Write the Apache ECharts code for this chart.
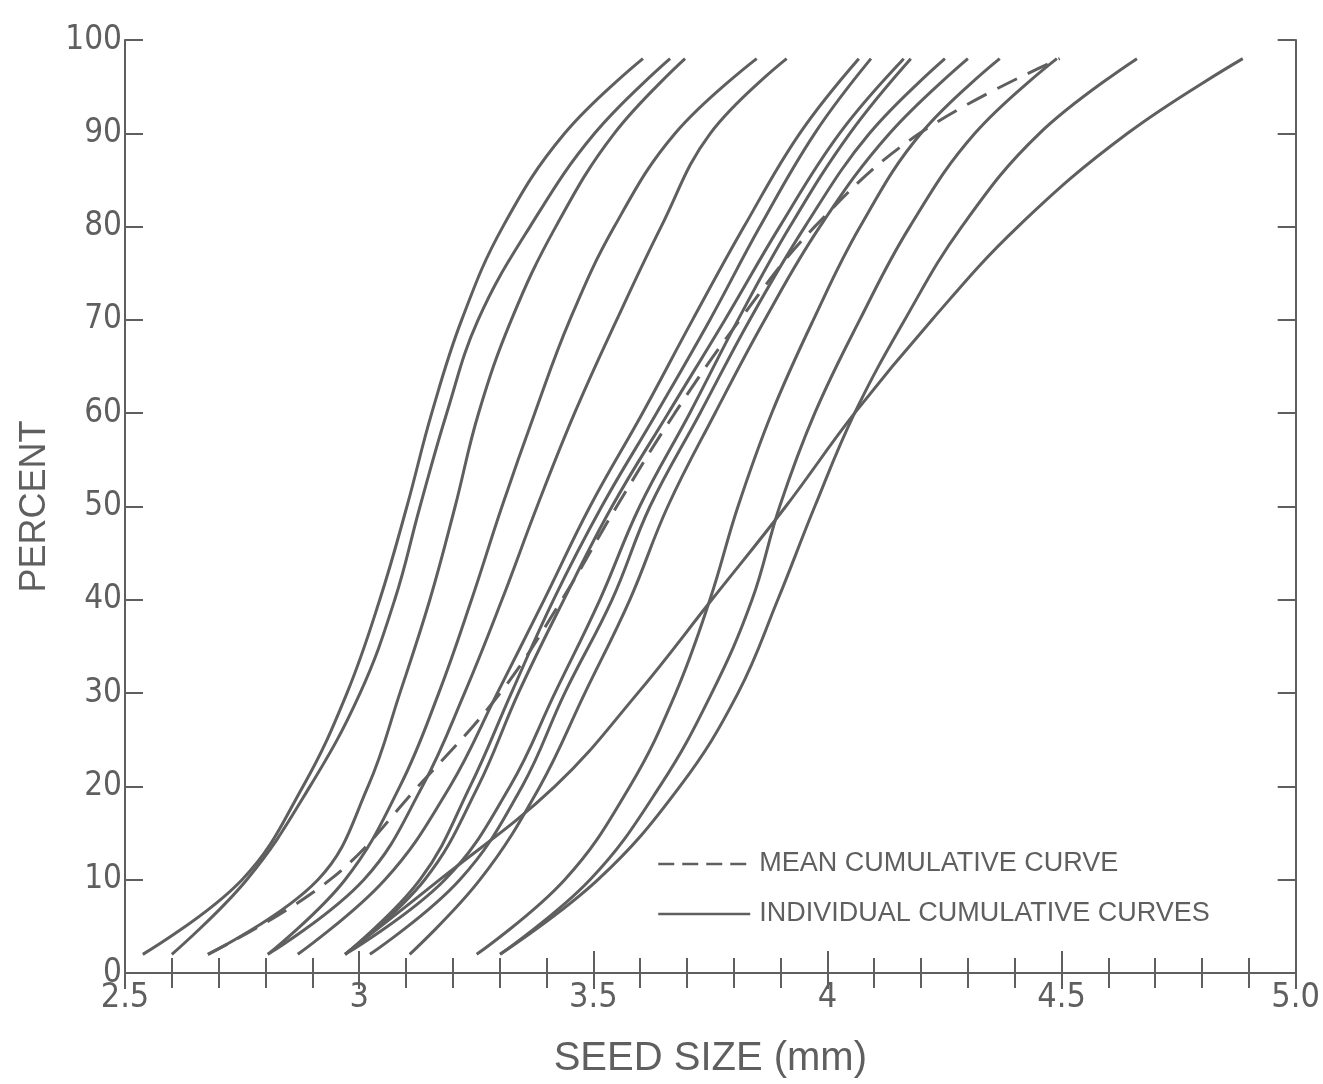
<!DOCTYPE html>
<html>
<head>
<meta charset="utf-8">
<title>Seed size cumulative curves</title>
<script src="https://cdn.jsdelivr.net/npm/echarts@6/dist/echarts.min.js"></script>
<style>
  html, body { margin: 0; padding: 0; background: #fff; }
  #chart { width: 1323px; height: 1084px; }
</style>
</head>
<body>
<div id="chart"></div>
<script>
// cumulative percent levels, shared by every curve
const percentLevels = [2, 10, 20, 30, 40, 50, 60, 70, 80, 90, 98];

// seed size (mm) at those levels
const curve1  = [2.538, 2.750, 2.880, 2.974, 3.044, 3.102, 3.155, 3.219, 3.307, 3.439, 3.606];
const curve2  = [2.600, 2.760, 2.895, 3.002, 3.076, 3.130, 3.187, 3.254, 3.365, 3.503, 3.664];
const curve3  = [2.677, 2.912, 3.019, 3.087, 3.151, 3.205, 3.255, 3.325, 3.420, 3.545, 3.696];
const curve4  = [2.805, 2.970, 3.087, 3.170, 3.240, 3.305, 3.375, 3.450, 3.545, 3.675, 3.849];
const curve5  = [2.805, 3.010, 3.135, 3.225, 3.305, 3.380, 3.460, 3.550, 3.645, 3.750, 3.913];
const curve6  = [2.869, 3.055, 3.194, 3.295, 3.395, 3.493, 3.605, 3.712, 3.822, 3.941, 4.067];
const curve7  = [2.970, 3.130, 3.237, 3.325, 3.415, 3.518, 3.635, 3.749, 3.856, 3.973, 4.093];
const curve8  = [2.970, 3.140, 3.254, 3.340, 3.437, 3.540, 3.660, 3.781, 3.898, 4.026, 4.163];
const curve9  = [2.970, 3.183, 3.322, 3.418, 3.514, 3.599, 3.706, 3.809, 3.920, 4.048, 4.178];
const curve10 = [3.023, 3.215, 3.348, 3.439, 3.540, 3.621, 3.728, 3.834, 3.952, 4.090, 4.251];
const curve11 = [3.108, 3.258, 3.386, 3.482, 3.578, 3.659, 3.760, 3.866, 3.984, 4.133, 4.300];
const curve12 = [3.251, 3.439, 3.578, 3.676, 3.749, 3.809, 3.881, 3.970, 4.070, 4.200, 4.368];
const curve13 = [3.301, 3.493, 3.642, 3.753, 3.839, 3.898, 3.973, 4.069, 4.176, 4.315, 4.490];
const curve14 = [3.301, 3.510, 3.685, 3.809, 3.894, 3.973, 4.058, 4.165, 4.287, 4.453, 4.661];
const curve15 = [2.970, 3.172, 3.418, 3.595, 3.753, 3.911, 4.058, 4.223, 4.407, 4.641, 4.887];

// mean cumulative curve (dashed)
const meanCurve = [2.677, 2.938, 3.126, 3.301, 3.433, 3.550, 3.674, 3.813, 3.973, 4.197, 4.496];

const xTickLabels = ['2.5', '3', '3.5', '4', '4.5', '5.0'];

const individualCurves = [curve1, curve2, curve3, curve4, curve5, curve6, curve7, curve8,
  curve9, curve10, curve11, curve12, curve13, curve14, curve15];

const INK = '#5f5f5f';
const numFont = "'Liberation Sans Narrow', 'DejaVu Sans Condensed', sans-serif";
const textFont = "'Liberation Sans', Arial, sans-serif";

const toPoints = sizes => sizes.map((s, i) => [s, percentLevels[i]]);

const series = individualCurves.map(c => ({
  name: 'INDIVIDUAL CUMULATIVE CURVES',
  type: 'line',
  data: toPoints(c),
  smooth: 0.4,
  symbol: 'none',
  lineStyle: { color: INK, width: 3 },
  itemStyle: { color: INK }
}));

series.push({
  name: 'MEAN CUMULATIVE CURVE',
  type: 'line',
  data: toPoints(meanCurve),
  smooth: 0.4,
  symbol: 'none',
  lineStyle: { color: INK, width: 3, type: [22, 12] },
  itemStyle: { color: INK }
});

const tickLine = { color: INK, width: 2 };

const chart = echarts.init(document.getElementById('chart'));
chart.setOption({
  animation: false,
  backgroundColor: '#fff',
  grid: { left: 125, right: 27, top: 40, bottom: 109 },
  legend: {
    data: [
      { name: 'MEAN CUMULATIVE CURVE', lineStyle: { type: [16, 8], width: 2.5 } },
      { name: 'INDIVIDUAL CUMULATIVE CURVES', lineStyle: { width: 2.5 } }
    ],
    orient: 'vertical',
    left: 652,
    top: 844,
    itemWidth: 92,
    itemHeight: 14,
    itemGap: 20,
    itemStyle: { opacity: 0 },
    textStyle: { fontFamily: textFont, fontSize: 27, color: INK, lineHeight: 30, padding: [0, 0, 0, 4] }
  },
  xAxis: [
    {
      type: 'value', min: 2.5, max: 5, interval: 0.5, position: 'bottom',
      axisLine: { show: true, lineStyle: tickLine },
      axisTick: { show: true, inside: true, length: 22, lineStyle: tickLine },
      minorTick: { show: true, splitNumber: 5, length: 15, lineStyle: tickLine },
      splitLine: { show: false },
      axisLabel: {
        formatter: (v, i) => xTickLabels[i],
        fontFamily: numFont, fontSize: 34, color: INK, margin: 8
      },
      name: 'SEED SIZE (mm)',
      nameLocation: 'middle',
      nameGap: 66,
      nameTextStyle: { fontFamily: textFont, fontSize: 40, color: INK }
    },
    {
      type: 'value', min: 2.5, max: 5, interval: 0.5, position: 'top',
      axisLine: { show: true, lineStyle: tickLine },
      axisTick: { show: true, inside: true, length: 16, lineStyle: tickLine },
      minorTick: { show: true, splitNumber: 5, length: 15, lineStyle: tickLine },
      splitLine: { show: false },
      axisLabel: { show: false }
    }
  ],
  yAxis: [
    {
      type: 'value', min: 0, max: 100, interval: 10, position: 'left',
      axisLine: { show: true, lineStyle: tickLine },
      axisTick: { show: true, inside: true, length: 18, lineStyle: tickLine },
      splitLine: { show: false },
      axisLabel: { fontFamily: numFont, fontSize: 33, color: INK, margin: 3 },
      name: 'PERCENT',
      nameLocation: 'middle',
      nameGap: 72,
      nameTextStyle: { fontFamily: textFont, fontSize: 36, color: INK }
    },
    {
      type: 'value', min: 0, max: 100, interval: 10, position: 'right',
      axisLine: { show: true, lineStyle: tickLine },
      axisTick: { show: true, inside: true, length: 18, lineStyle: tickLine },
      splitLine: { show: false },
      axisLabel: { show: false }
    }
  ],
  series: series
});

window.addEventListener('resize', () => chart.resize());
</script>
</body>
</html>
